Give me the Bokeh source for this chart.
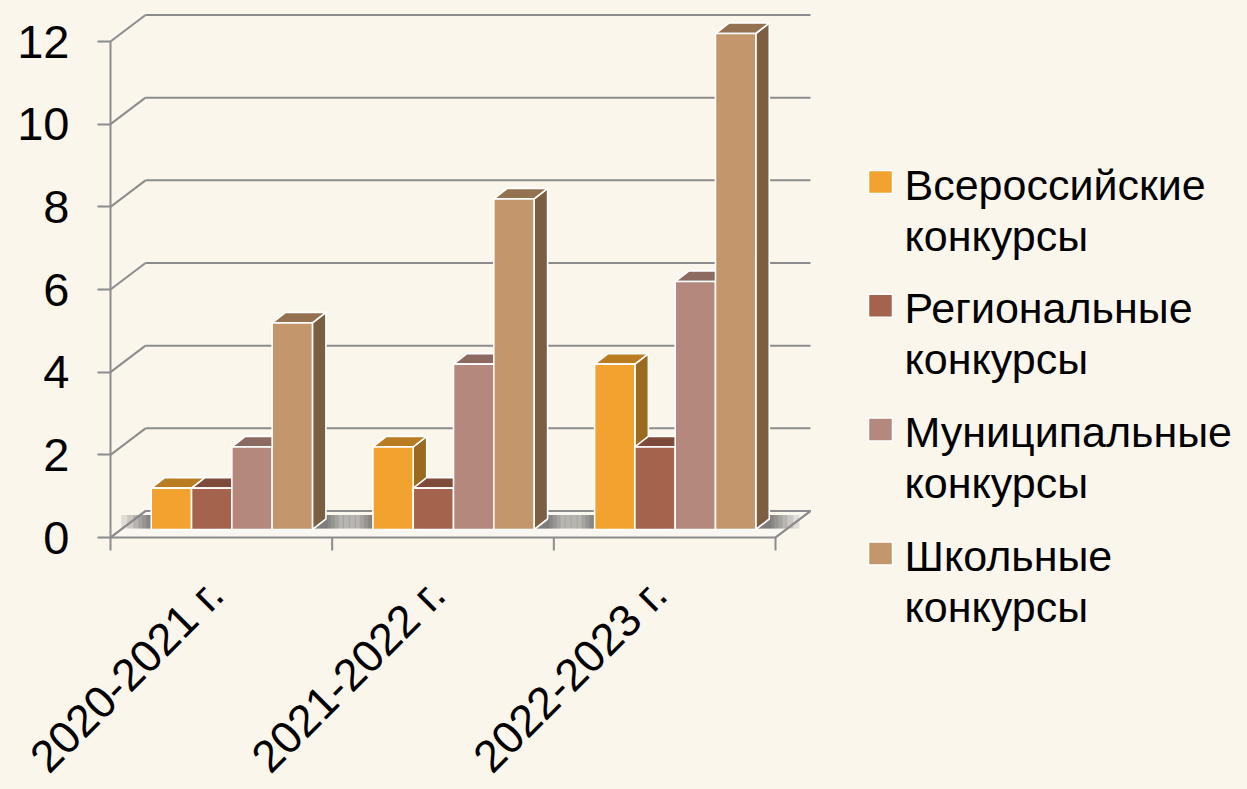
from bokeh.plotting import figure
from bokeh.models import Range1d, FixedTicker, ColumnDataSource
from bokeh.core.properties import value
from bokeh.embed import file_html
from bokeh.resources import INLINE

# ---------------- data ----------------
categories = ["2020-2021 г.", "2021-2022 г.", "2022-2023 г."]
series_names = ["Всероссийские конкурсы", "Региональные конкурсы",
                "Муниципальные конкурсы", "Школьные конкурсы"]
vserossiyskie = [1, 2, 4]
regionalnye = [1, 1, 2]
municipalnye = [2, 4, 6]
shkolnye = [5, 8, 12]
y_ticks = [0, 2, 4, 6, 8, 10, 12]

series_values = [vserossiyskie, regionalnye, municipalnye, shkolnye]

# ---------------- styles ----------------
FONT = "Liberation Sans"
BG = "#FBF6EC"
FLOOR = "#FAF7F1"
GRID = "#8C8C8C"
front_colors = ["#F1A22F", "#A4634C", "#B4887C", "#C3966B"]
top_colors = ["#BA7C21", "#7E4A3A", "#8C6A62", "#94724F"]
side_colors = ["#9B6A1E", "#70412F", "#7A5A52", "#7C5F43"]

# ---------------- geometry (pixels -> data units) ----------------
W, H = 1231, 773
ORIGIN_X, ORIGIN_Y = 110, 537      # page position of the front-left corner (value 0)
PX_X = 221.67                      # px per category
PX_Y = 41.333                      # px per unit of value
x_start = -(ORIGIN_X - 8) / PX_X
x_end = (W - (ORIGIN_X - 8)) / PX_X
y_top = (ORIGIN_Y - 8) / PX_Y
y_bot = -(H - (ORIGIN_Y - 8)) / PX_Y

def X(px):
    return (px - ORIGIN_X) / PX_X

def Y(py):
    return (ORIGIN_Y - py) / PX_Y

DX, DY = 35 / PX_X, 26.5 / PX_Y          # wall depth
BOX, BOY = 10.5 / PX_X, 8 / PX_Y         # bar front plane offset
BDX, BDY = 13.5 / PX_X, 10.5 / PX_Y      # bar depth
BW = 40.3 / PX_X                         # bar width
ncat = len(categories)

p = figure(width=W, height=H, x_range=Range1d(x_start, x_end), y_range=Range1d(y_bot, y_top),
           output_backend="svg", toolbar_location=None,
           min_border_left=0, min_border_right=0,
           min_border_top=0, min_border_bottom=0, x_axis_location=None)
p.grid.visible = False
p.background_fill_color = BG
p.border_fill_color = BG
p.outline_line_color = None

# y axis, pinned at x = 0 inside the frame
ax = p.yaxis[0]
ax.fixed_location = 0
ax.ticker = FixedTicker(ticks=y_ticks)
ax.axis_line_color = None
ax.major_tick_line_color = GRID
ax.major_tick_line_width = 2
ax.major_tick_out = 13
ax.major_tick_in = 0
ax.minor_tick_line_color = None
ax.major_label_text_font_size = "47px"
ax.major_label_text_font = FONT
ax.major_label_text_color = "black"
ax.major_label_standoff = 28

# floor
p.patch([0, ncat, ncat + DX, DX], [0, 0, DY, DY], fill_color=FLOOR,
        line_color=GRID, line_width=2)

# soft shadows on the floor
nser = len(series_values)
for i in range(ncat):
    g0 = i + 0.5 + BOX - nser / 2 * BW
    g1 = g0 + nser * BW + BDX
    for e in [30, 24, 18, 13, 9, 5, 2]:
        p.quad(left=[g0 - e / PX_X], right=[g1 + e / PX_X],
               bottom=[BOY + 1 / PX_Y], top=[DY - 4 / PX_Y],
               fill_color="#333333", fill_alpha=0.13, line_color=None)

# wall gridlines
gx0, gy0, gx1, gy1 = [], [], [], []
for v in y_ticks:
    gx0 += [0, DX]
    gy0 += [v, v + DY]
    gx1 += [DX, ncat + DX]
    gy1 += [v + DY, v + DY]
p.segment(gx0, gy0, gx1, gy1, line_color=GRID, line_width=2)
p.segment([ncat], [0], [ncat + DX], [DY], line_color=GRID, line_width=2)

# axis line and category ticks
p.segment([0], [0], [0], [max(y_ticks)], line_color=GRID, line_width=2)
p.segment(list(range(ncat + 1)), [0] * (ncat + 1), list(range(ncat + 1)),
          [-13 / PX_Y] * (ncat + 1), line_color=GRID, line_width=2)

# bars (painter's order: left to right)
xs, ys, fc = [], [], []
for i in range(ncat):
    for j, vals in enumerate(series_values):
        v = vals[i]
        x0 = i + 0.5 + BOX - nser / 2 * BW + j * BW
        x1 = x0 + BW
        y0 = BOY
        y1 = BOY + v
        xs.append([x1, x1 + BDX, x1 + BDX, x1]); ys.append([y0, y0 + BDY, y1 + BDY, y1]); fc.append(side_colors[j])
        xs.append([x0, x1, x1 + BDX, x0 + BDX]); ys.append([y1, y1, y1 + BDY, y1 + BDY]); fc.append(top_colors[j])
        xs.append([x0, x1, x1, x0]); ys.append([y0, y0, y1, y1]); fc.append(front_colors[j])
src = ColumnDataSource(dict(xs=xs, ys=ys, fc=fc))
p.patches("xs", "ys", source=src, fill_color="fc", line_color="white", line_width=1.6)

# category labels
p.text(x=[i + X(215) for i in range(ncat)], y=[Y(586)] * ncat, text=categories,
       angle=0.7854, text_align="right", text_baseline="alphabetic",
       text_font=value(FONT), text_font_size="45px", text_color="black")

# legend
for k, name in enumerate(series_names):
    sy = 170 + 123.8 * k
    p.quad(left=[X(868)], right=[X(892)], top=[Y(sy)], bottom=[Y(sy + 23)],
           fill_color=front_colors[k], line_color="white", line_width=1.5)
    first, second = name.split(" ", 1)
    by = 199 + 123.8 * k - 15
    p.text(x=[X(904), X(904)], y=[Y(by), Y(by + 51)], text=[first, second],
           text_align="left", text_baseline="alphabetic",
           text_font=value(FONT), text_font_size="43px", text_color="black")

html = file_html(p, INLINE, title="chart")
html = html.replace("<body>", '<body style="margin:8px;background:%s;">' % BG)
open("out.html", "w").write(html)
